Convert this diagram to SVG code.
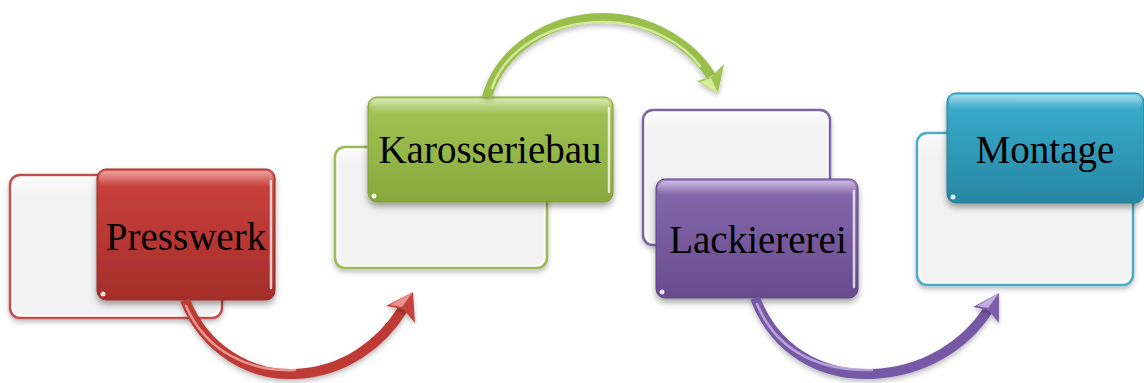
<svg xmlns="http://www.w3.org/2000/svg" width="1144" height="383" viewBox="0 0 1144 383">
  <defs>
    <filter id="shadow" x="-10%" y="-10%" width="120%" height="130%">
      <feDropShadow dx="0" dy="4" stdDeviation="3" flood-color="#000" flood-opacity="0.35"/>
    </filter>
    <filter id="softShadow" x="-10%" y="-10%" width="120%" height="130%">
      <feDropShadow dx="0" dy="3" stdDeviation="2.5" flood-color="#000" flood-opacity="0.25"/>
    </filter>
    <linearGradient id="gRed" x1="0" y1="0" x2="0" y2="1">
      <stop offset="0" stop-color="#dc5a55"/>
      <stop offset="0.1" stop-color="#c8403b"/>
      <stop offset="1" stop-color="#a52d2b"/>
    </linearGradient>
    <linearGradient id="gGreen" x1="0" y1="0" x2="0" y2="1">
      <stop offset="0" stop-color="#bcd977"/>
      <stop offset="0.1" stop-color="#a1c354"/>
      <stop offset="1" stop-color="#87a93d"/>
    </linearGradient>
    <linearGradient id="gPurple" x1="0" y1="0" x2="0" y2="1">
      <stop offset="0" stop-color="#a386c8"/>
      <stop offset="0.1" stop-color="#8466ab"/>
      <stop offset="1" stop-color="#684b8d"/>
    </linearGradient>
    <linearGradient id="gTeal" x1="0" y1="0" x2="0" y2="1">
      <stop offset="0" stop-color="#5cc6e0"/>
      <stop offset="0.1" stop-color="#38abcb"/>
      <stop offset="1" stop-color="#2786a3"/>
    </linearGradient>
    <linearGradient id="gloss" x1="0" y1="0" x2="0" y2="1">
      <stop offset="0" stop-color="#fff" stop-opacity="0.45"/>
      <stop offset="1" stop-color="#fff" stop-opacity="0"/>
    </linearGradient>
    <linearGradient id="backFill" x1="0" y1="0" x2="0" y2="1">
      <stop offset="0" stop-color="#fbfbfb"/>
      <stop offset="0.15" stop-color="#f2f2f2"/>
      <stop offset="1" stop-color="#f2f2f2"/>
    </linearGradient>
    <style>
      .back { fill: url(#backFill); stroke-width: 2.5; filter: url(#softShadow); }
      .backInner { fill: none; stroke: #fff; stroke-width: 1.5; stroke-opacity: 0.8; }
      .face { filter: url(#shadow); stroke-width: 1; }
      .gloss { fill: url(#gloss); }
      .edge { stroke: #fff; stroke-width: 2.5; stroke-opacity: 0.75; stroke-linecap: round; }
      .dot { fill: #fff; fill-opacity: 0.85; }
      .label { font-family: "Liberation Serif", "Times New Roman", serif; font-size: 39px; fill: #000; text-anchor: middle; }
      .shaft { fill: none; stroke-width: 10; stroke-linecap: butt; filter: url(#softShadow); }
      .shine { fill: none; stroke-width: 2.5; stroke-linecap: round; stroke-opacity: 0.8; }
      .head { filter: url(#softShadow); }
    </style>
  </defs>

  <!-- Presswerk -->
  <g id="presswerk">
    <rect class="back" x="10" y="175" width="212" height="143" rx="10" stroke="#c0504d"/>
    <rect class="backInner" x="12.5" y="177.5" width="207" height="138" rx="8"/>
    <rect class="face" x="97" y="169" width="178" height="131" rx="9" fill="url(#gRed)" stroke="#9a2a27"/>
    <rect class="gloss" x="99" y="171" width="174" height="16" rx="7"/>
    <line class="edge" x1="271" y1="181" x2="271" y2="288"/>
    <circle class="dot" cx="103" cy="294" r="2.5"/>
    <text class="label" x="186" y="250">Presswerk</text>
  </g>

  <!-- Karosseriebau -->
  <g id="karosseriebau">
    <rect class="back" x="335" y="147" width="212" height="121" rx="10" stroke="#9bbb59"/>
    <rect class="backInner" x="337.5" y="149.5" width="207" height="116" rx="8"/>
    <rect class="face" x="368" y="97" width="245" height="105" rx="9" fill="url(#gGreen)" stroke="#7e9d3a"/>
    <rect class="gloss" x="370" y="99" width="241" height="15" rx="7"/>
    <line class="edge" x1="609" y1="108" x2="609" y2="192"/>
    <circle class="dot" cx="374" cy="196" r="2.5"/>
    <text class="label" x="490" y="163">Karosseriebau</text>
  </g>

  <!-- Lackiererei -->
  <g id="lackiererei">
    <rect class="back" x="643" y="110" width="187" height="135" rx="10" stroke="#8064a2"/>
    <rect class="backInner" x="645.5" y="112.5" width="182" height="130" rx="8"/>
    <rect class="face" x="656" y="179" width="202" height="119" rx="9" fill="url(#gPurple)" stroke="#5e4482"/>
    <rect class="gloss" x="658" y="181" width="198" height="15" rx="7"/>
    <line class="edge" x1="854" y1="191" x2="854" y2="287"/>
    <circle class="dot" cx="662" cy="292" r="2.5"/>
    <text class="label" x="758" y="253">Lackiererei</text>
  </g>

  <!-- Montage -->
  <g id="montage">
    <rect class="back" x="917" y="133" width="216" height="152" rx="10" stroke="#4bacc6"/>
    <rect class="backInner" x="919.5" y="135.5" width="211" height="147" rx="8"/>
    <rect class="face" x="947" y="93" width="197" height="110" rx="9" fill="url(#gTeal)" stroke="#237d97"/>
    <rect class="gloss" x="949" y="95" width="193" height="15" rx="7"/>
    <circle class="dot" cx="953" cy="197" r="2.5"/>
    <text class="label" x="1045" y="163">Montage</text>
  </g>

  <!-- Connectors -->
  <g id="connectors">
    <g id="arrow-presswerk-karosseriebau">
      <path class="shaft" stroke="#be3b35" d="M185,300 C205,350 250,376 295,374 C345,372 382,343 403,309"/>
      <path class="shine" stroke="#f0b0aa" d="M186,306 C206,352 250,372 295,370"/>
      <polygon class="head" fill="#c8423c" points="413,292 386,306 403,309 415,323"/>
      <polygon fill="#e9918b" points="413,292 390,305 402,307"/>
    </g>
    <g id="arrow-karosseriebau-lackiererei">
      <path class="shaft" stroke="#99bf4c" d="M487,97 C500,50 550,18 603,18 C650,18 692,45 711,76"/>
      <path class="shine" stroke="#e2f4b0" d="M492,88 C506,48 552,22 603,22 C648,22 684,44 700,66"/>
      <polygon class="head" fill="#9fc553" points="718,93 697,81 711,77 724,64"/>
      <polygon fill="#d6ee9a" points="718,93 700,82 711,78"/>
    </g>
    <g id="arrow-lackiererei-montage">
      <path class="shaft" stroke="#7658a6" d="M755,298 C775,350 820,376 872,374 C925,372 966,344 988,310"/>
      <path class="shine" stroke="#c9b6e6" d="M757,304 C777,352 820,371 872,370"/>
      <polygon class="head" fill="#7d5fae" points="999,293 973,307 988,310 999,323"/>
      <polygon fill="#c2aee2" points="999,293 977,306 988,308"/>
    </g>
  </g>
</svg>
